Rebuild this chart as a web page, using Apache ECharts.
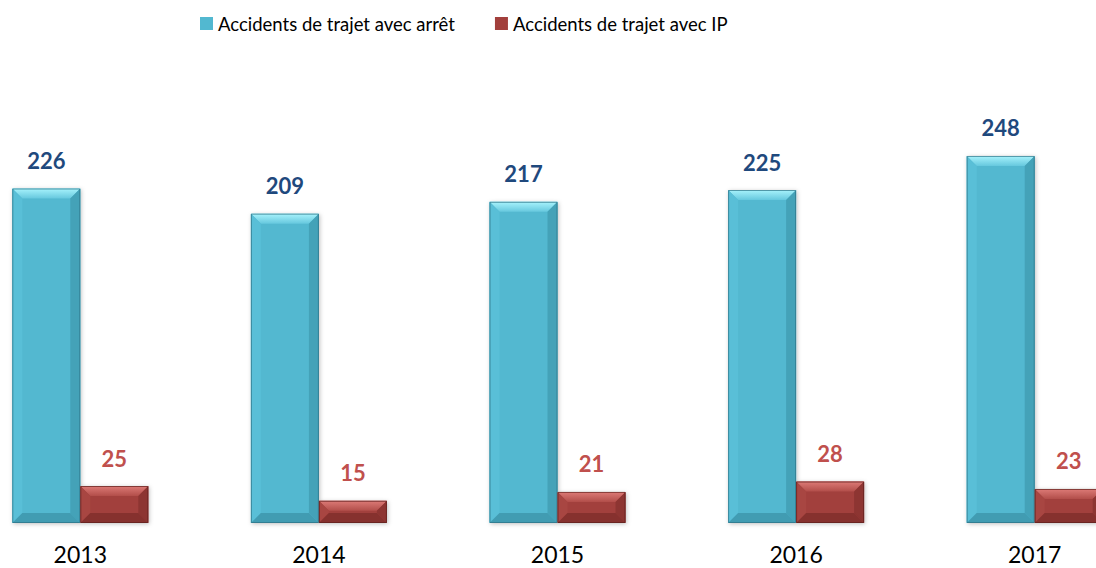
<!DOCTYPE html>
<html>
<head>
<meta charset="utf-8">
<script src="https://cdn.jsdelivr.net/npm/echarts@6/dist/echarts.min.js"></script>
<style>html,body{margin:0;padding:0;background:#fff}#c{width:1096px;height:568px}</style>
</head>
<body>
<div id="c"></div>
<script>
const categories = ['2013', '2014', '2015', '2016', '2017'];
const seriesNames = ['Accidents de trajet avec arrêt', 'Accidents de trajet avec IP'];
const arretValues = [226, 209, 217, 225, 248];
const ipValues = [25, 15, 21, 28, 23];

const FONT = 'Lato';
const BAR_W = 68;
const palettes = [
  {main: '#52b8d0', topA: '#a8f3fc', topB: '#66c8de', left: '#59bfd7', right: '#44a2b8', bottom: '#419cb2', line: '#2d7284', label: '#1f497d'},
  {main: '#a23f3c', topA: '#dd7b77', topB: '#b24e4a', left: '#a84642', right: '#8d3532', bottom: '#86312e', line: '#5e1f1d', label: '#c0504d'}
];

const overlayData = [];
arretValues.forEach((v, i) => overlayData.push([i, v, 0]));
ipValues.forEach((v, i) => overlayData.push([i, v, 1]));

function renderBevel(params, api) {
  const i = api.value(0), v = api.value(1), s = api.value(2);
  const top = api.coord([i, v]);
  const base = api.coord([i, 0]);
  const cx = top[0];
  const x0 = s === 0 ? cx - BAR_W : cx;
  const x1 = x0 + BAR_W;
  const y0 = top[1], y1 = base[1];
  const h = y1 - y0;
  const b = Math.min(10, h / 2);
  const p = palettes[s];
  return {
    type: 'group',
    children: [
      {type: 'polygon', shape: {points: [[x0, y0], [x1, y0], [x1 - b, y0 + b], [x0 + b, y0 + b]]},
        style: {fill: new echarts.graphic.LinearGradient(0, 0, 0, 1, [{offset: 0, color: p.topA}, {offset: 1, color: p.topB}])}},
      {type: 'polygon', shape: {points: [[x0, y0], [x0 + b, y0 + b], [x0 + b, y1 - b], [x0, y1]]},
        style: {fill: p.left}},
      {type: 'polygon', shape: {points: [[x1, y0], [x1 - b, y0 + b], [x1 - b, y1 - b], [x1, y1]]},
        style: {fill: p.right}},
      {type: 'polygon', shape: {points: [[x0, y1], [x1, y1], [x1 - b, y1 - b], [x0 + b, y1 - b]]},
        style: {fill: p.bottom}},
      {type: 'rect', shape: {x: x0 + 0.5, y: y0 + 0.5, width: BAR_W - 1, height: h - 1},
        style: {fill: 'none', stroke: p.line, lineWidth: 1, opacity: 0.7}}
    ]
  };
}

const chart = echarts.init(document.getElementById('c'), null, {renderer: 'svg'});
chart.setOption({
  animation: false,
  backgroundColor: '#ffffff',
  textStyle: {fontFamily: FONT},
  legend: {
    data: seriesNames,
    left: 200, top: 14, padding: 0,
    itemWidth: 13, itemHeight: 13, itemGap: 40,
    icon: 'rect',
    textStyle: {fontFamily: FONT, fontSize: 18.5, color: '#000'}
  },
  grid: {left: -39, width: 1193, top: 79, bottom: 45, containLabel: false, outerBoundsMode: 'none'},
  xAxis: {
    type: 'category', data: categories,
    axisLine: {show: false}, axisTick: {show: false},
    axisLabel: {fontFamily: FONT, fontSize: 23, color: '#000', margin: 19}
  },
  yAxis: {type: 'value', min: 0, max: 300, show: false, splitLine: {show: false}},
  series: [
    {name: seriesNames[0], type: 'bar', data: arretValues, barWidth: BAR_W, barGap: '0%',
      itemStyle: {color: palettes[0].main, shadowBlur: 4, shadowColor: 'rgba(0,0,0,0.25)', shadowOffsetX: 1, shadowOffsetY: 1},
      label: {show: true, position: 'top', distance: 17, fontFamily: FONT, fontWeight: 'bold', fontSize: 22, color: palettes[0].label}},
    {name: seriesNames[1], type: 'bar', data: ipValues, barWidth: BAR_W, barGap: '0%',
      itemStyle: {color: palettes[1].main, shadowBlur: 4, shadowColor: 'rgba(0,0,0,0.25)', shadowOffsetX: 1, shadowOffsetY: 1},
      label: {show: true, position: 'top', distance: 17, fontFamily: FONT, fontWeight: 'bold', fontSize: 22, color: palettes[1].label}},
    {type: 'custom', name: 'bevel', renderItem: renderBevel, data: overlayData, silent: true, z: 3,
      encode: {x: 0, y: 1}, tooltip: {show: false}}
  ]
});
</script>
</body>
</html>
